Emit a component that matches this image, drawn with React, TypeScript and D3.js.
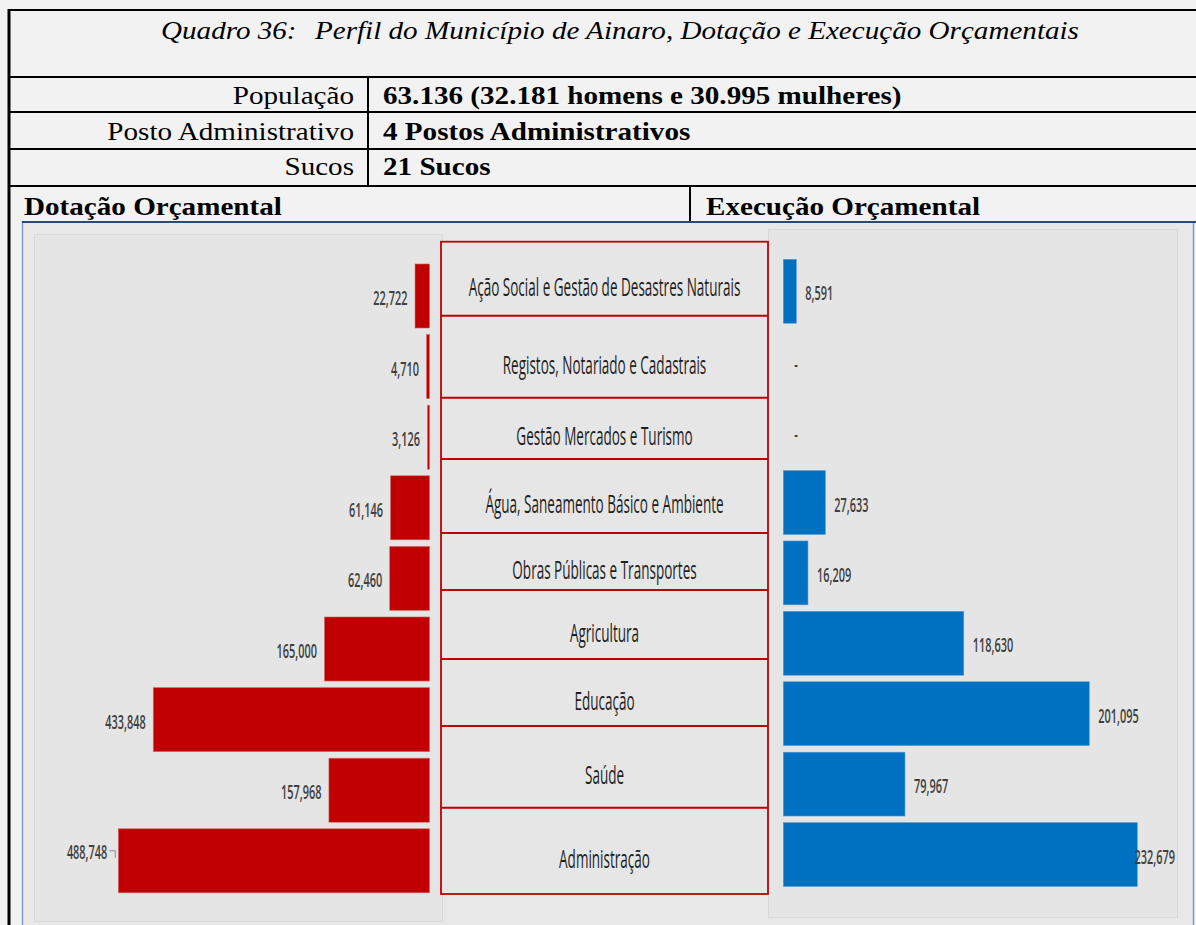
import React, { useEffect, useRef } from 'react';
import * as d3 from 'd3';

// chart data
const categories = [
  'Ação Social e Gestão de Desastres Naturais',
  'Registos, Notariado e Cadastrais',
  'Gestão Mercados e Turismo',
  'Água, Saneamento  Básico e Ambiente',
  'Obras Públicas e Transportes',
  'Agricultura',
  'Educação',
  'Saúde',
  'Administração',
];
const dotacao = [22722, 4710, 3126, 61146, 62460, 165000, 433848, 157968, 488748];
const execucao = [8591, 0, 0, 27633, 16209, 118630, 201095, 79967, 232679];

// table text
const titleLead = 'Quadro 36:';
const titleText = 'Perfil do Município de Ainaro, Dotação e Execução Orçamentais';
const infoLabels = ['População', 'Posto Administrativo', 'Sucos'];
const infoValues = ['63.136 (32.181 homens e 30.995 mulheres)', '4 Postos Administrativos', '21 Sucos'];
const sectionHeads = ['Dotação Orçamental', 'Execução Orçamental'];

const W = 1196;
const H = 925;
const SERIF = '"Liberation Serif", "Times New Roman", serif';
const SANS = '"Open Sans", "Noto Sans", sans-serif';

const App = () => {
  const ref = useRef<SVGSVGElement>(null);

  useEffect(() => {
    const svg = d3.select(ref.current);
    svg.selectAll('*').remove();

    const text = (g, x, y, str, o: any = {}) => {
      const t = g.append('g')
        .attr('transform', `translate(${x},${y}) scale(${o.sx ?? 1},1)`)
        .append('text')
        .attr('text-anchor', o.anchor ?? 'start')
        .attr('font-family', o.family ?? SERIF)
        .attr('font-size', o.size ?? 26)
        .attr('font-weight', o.weight ?? 400)
        .attr('font-style', o.style ?? 'normal')
        .attr('fill', o.fill ?? '#000')
        .text(str);
      return t;
    };

    // page
    svg.append('rect').attr('width', W).attr('height', H).attr('fill', '#f2f2f2');

    // ---- table part ----
    const tbl = svg.append('g');
    const hLines = [10, 77, 112, 149, 186];
    hLines.forEach(y => {
      tbl.append('line').attr('x1', 8).attr('x2', W).attr('y1', y).attr('y2', y)
        .attr('stroke', '#000').attr('stroke-width', 2);
    });
    tbl.append('line').attr('x1', 368).attr('x2', 368).attr('y1', 77).attr('y2', 186)
      .attr('stroke', '#000').attr('stroke-width', 2);
    tbl.append('line').attr('x1', 690).attr('x2', 690).attr('y1', 186).attr('y2', 222)
      .attr('stroke', '#000').attr('stroke-width', 2);

    text(tbl, 161, 39, titleLead, { style: 'italic', sx: 1.12 });
    text(tbl, 315, 39, titleText, { style: 'italic', sx: 1.12 });

    const rowBase = [104, 140, 175];
    infoLabels.forEach((l, i) => {
      text(tbl, 354, rowBase[i], l, { anchor: 'end', sx: 1.12 });
      text(tbl, 383, rowBase[i], infoValues[i], { weight: 700, sx: 1.12 });
    });
    text(tbl, 24, 215, sectionHeads[0], { weight: 700, sx: 1.12 });
    text(tbl, 706, 215, sectionHeads[1], { weight: 700, sx: 1.12 });

    // ---- chart image ----
    const ch = svg.append('g');
    ch.append('rect').attr('x', 22.5).attr('y', 222).attr('width', 1171).attr('height', H - 222 + 5)
      .attr('fill', '#e8e8e8').attr('stroke', '#7a9fca').attr('stroke-width', 1.5);
    ch.append('line').attr('x1', 22).attr('x2', W).attr('y1', 222).attr('y2', 222)
      .attr('stroke', '#2b4a72').attr('stroke-width', 2);

    // panels
    ch.append('rect').attr('x', 34.5).attr('y', 234.5).attr('width', 408).attr('height', 687)
      .attr('fill', '#e5e5e5').attr('stroke', '#d8d8d8');
    ch.append('rect').attr('x', 768.5).attr('y', 229.5).attr('width', 409).attr('height', 688)
      .attr('fill', '#e5e5e5').attr('stroke', '#d8d8d8');

    // left: dotação
    const yL = d3.scaleBand().domain(categories).range([260.7, 896.1])
      .paddingInner(0.093).paddingOuter(0.0465);
    const xL = d3.scaleLinear().domain([0, d3.max(dotacao)]).range([429.5, 118.3]);
    // right: execução
    const yR = d3.scaleBand().domain(categories).range([256.1, 889.7])
      .paddingInner(0.093).paddingOuter(0.0465);
    const xR = d3.scaleLinear().domain([0, d3.max(execucao)]).range([783.3, 1137.3]);

    const fmt = d3.format(',');
    const lbl = { family: SANS, size: 19.5, sx: 0.56, weight: 600, fill: '#404040' };
    const maxL = d3.max(dotacao);

    ch.selectAll('.barL')
      .data(dotacao)
      .enter().append('rect')
      .attr('class', 'barL')
      .attr('x', d => xL(d))
      .attr('y', (d, i) => yL(categories[i]))
      .attr('width', d => xL(0) - xL(d))
      .attr('height', yL.bandwidth())
      .attr('fill', '#c00000')
      .attr('stroke', '#d46a6a').attr('stroke-width', 0.6);

    dotacao.forEach((d, i) => {
      const cy = yL(categories[i]) + yL.bandwidth() / 2;
      if (d === maxL) {
        // label pulled out with a leader line
        const ly = cy - 9;
        text(ch, xL(d) - 11, ly + 7, fmt(d), { ...lbl, anchor: 'end' });
        ch.append('path')
          .attr('d', `M${xL(d) - 9},${ly - 1}H${xL(d) - 3}V${ly + 6}`)
          .attr('fill', 'none').attr('stroke', '#8c8c8c').attr('stroke-width', 1);
      } else {
        text(ch, xL(d) - 7.5, cy + 9, fmt(d), { ...lbl, anchor: 'end' });
      }
    });

    ch.selectAll('.barR')
      .data(execucao)
      .enter().append('rect')
      .attr('class', 'barR')
      .attr('x', xR(0))
      .attr('y', (d, i) => yR(categories[i]))
      .attr('width', d => xR(d) - xR(0))
      .attr('height', yR.bandwidth())
      .attr('fill', '#0070c0')
      .attr('stroke', d => (d > 0 ? '#5a9ad6' : 'none')).attr('stroke-width', 0.6);

    const rightEdge = 1175;
    execucao.forEach((d, i) => {
      const cy = yR(categories[i]) + yR.bandwidth() / 2;
      const s = d === 0 ? '-' : fmt(d);
      const w = s.length * 5.8;
      let x = xR(d) + 9;
      if (d === 0) x += 2;
      if (x + w > rightEdge) {
        text(ch, rightEdge, cy + 9, s, { ...lbl, anchor: 'end' });
      } else {
        text(ch, x, cy + 9, s, lbl);
      }
    });

    // category table overlay in the middle
    const boxLines = [241.7, 315.7, 397.7, 459, 533, 590, 659, 726, 807.7, 894];
    const bx0 = 441;
    const bx1 = 768;
    const mid = ch.append('g');
    mid.append('rect').attr('x', bx0).attr('y', boxLines[0])
      .attr('width', bx1 - bx0).attr('height', boxLines[boxLines.length - 1] - boxLines[0])
      .attr('fill', '#e6e6e6').attr('stroke', '#c00000').attr('stroke-width', 1.8);
    boxLines.slice(1, -1).forEach(y => {
      mid.append('line').attr('x1', bx0).attr('x2', bx1).attr('y1', y).attr('y2', y)
        .attr('stroke', '#c00000').attr('stroke-width', 2);
    });
    categories.forEach((c, i) => {
      const cy = (boxLines[i] + boxLines[i + 1]) / 2;
      text(mid, (bx0 + bx1) / 2, cy + 17, c, {
        family: SANS, size: 26, sx: 0.52, anchor: 'middle', fill: '#1e1e1e',
      });
    });

    // left border of the table
    svg.append('line').attr('x1', 9).attr('x2', 9).attr('y1', 9).attr('y2', H)
      .attr('stroke', '#000').attr('stroke-width', 3);
  }, []);

  return (
    <svg ref={ref} width={W} height={H}
      style={{ position: 'absolute', left: 0, top: 0, display: 'block' }} />
  );
};

export default App;
